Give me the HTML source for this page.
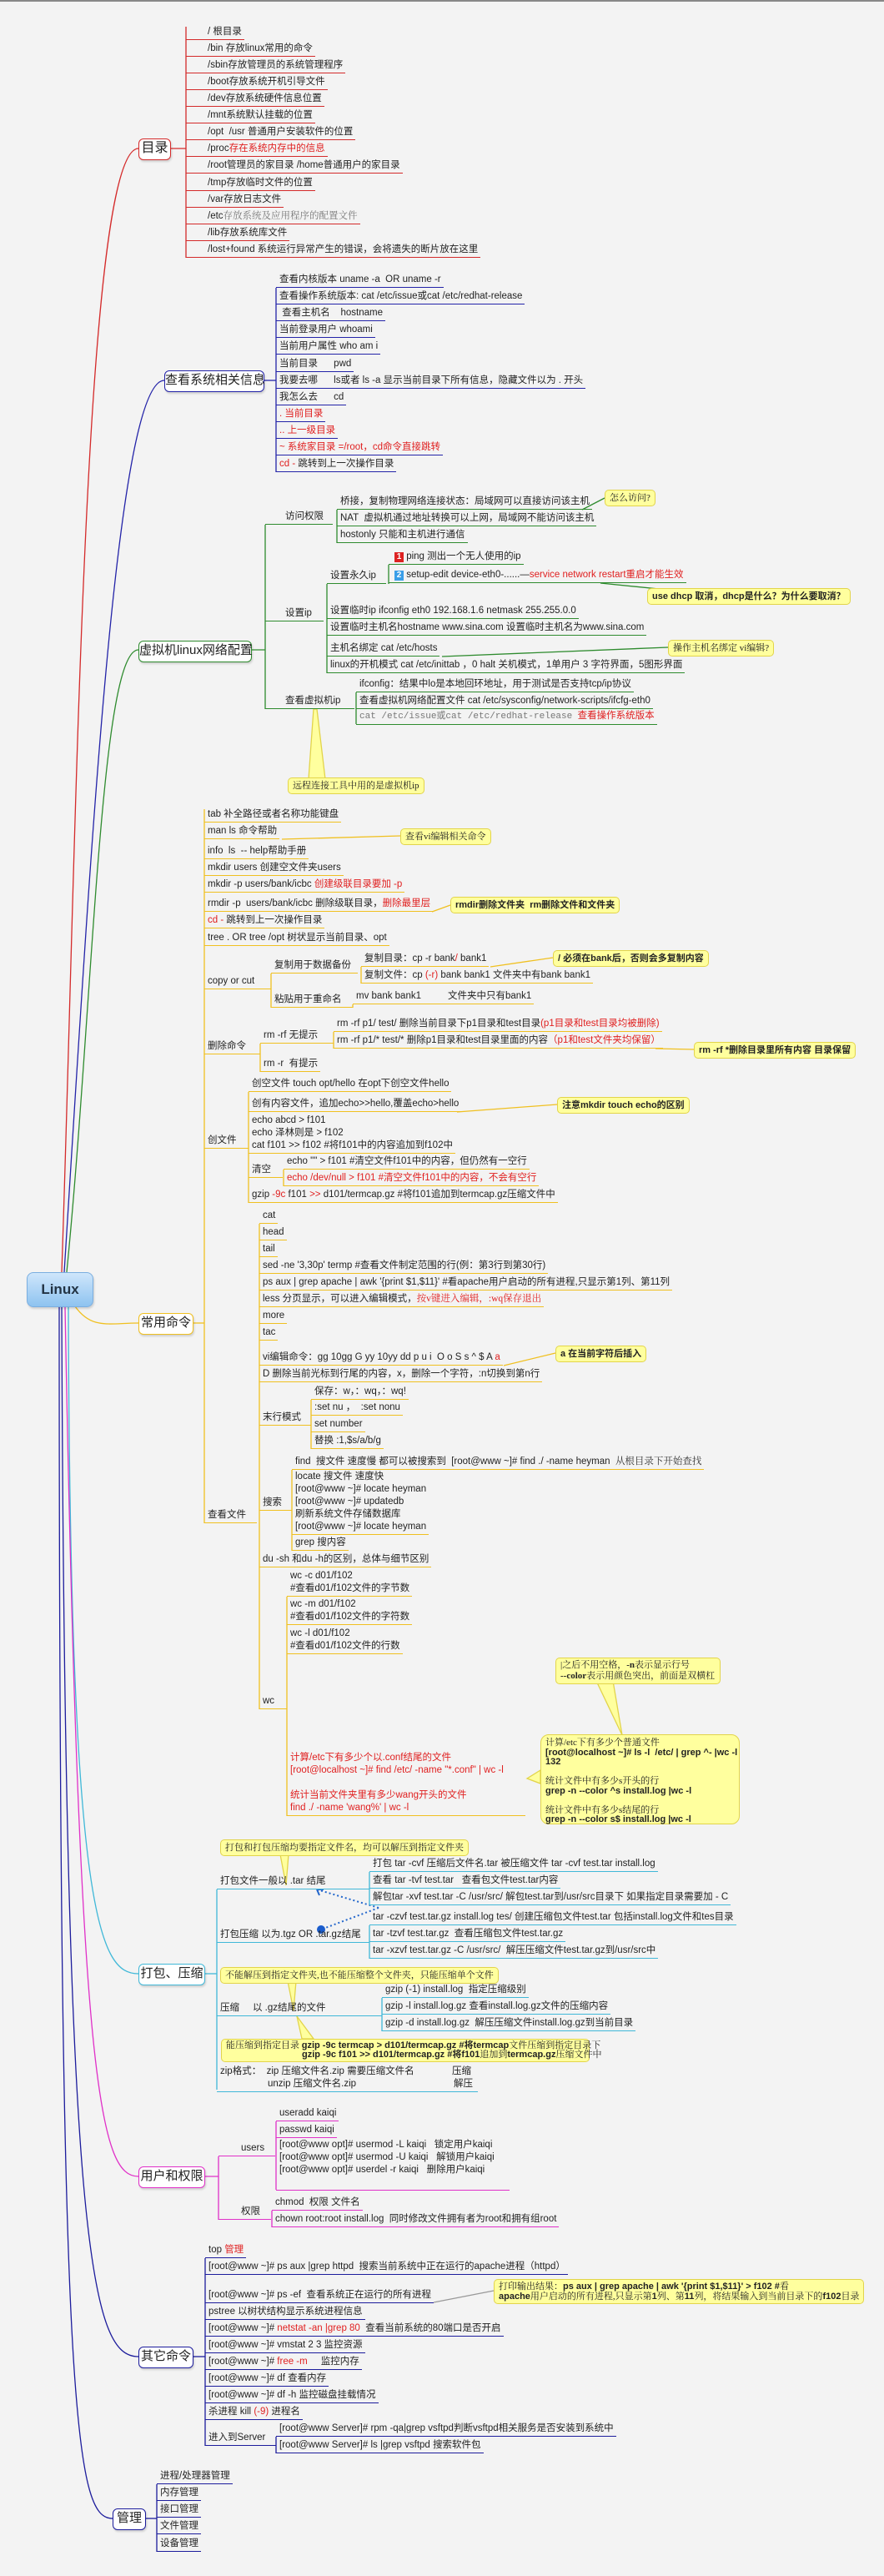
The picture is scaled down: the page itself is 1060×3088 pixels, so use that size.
<!DOCTYPE html>
<html><head><meta charset="utf-8"><style>
body{margin:0;background:#f3f3f3;}
#pg{position:relative;width:1060px;height:3088px;overflow:hidden;background:#f3f3f3;border-top:2px solid #888;box-sizing:border-box;font-family:"Liberation Sans","Noto Sans CJK SC",sans-serif;}
.t{position:absolute;white-space:nowrap;font-size:11.5px;line-height:15px;color:#222;padding:0 3px 1px 4px;border-bottom:1.5px solid #000;}
.r{border-color:#d42a2a}.b{border-color:#2323a8}.g{border-color:#2e8b2e}.y{border-color:#f0c020}.c{border-color:#40b8d8}.m{border-color:#e030c8}.n{border-color:#1c1c9c}
.red{color:#e02020}.gr{color:#777;font-family:"Liberation Serif","Noto Serif CJK SC",serif}
.node{position:absolute;background:#fff;border:1.5px solid;border-radius:6px;font-size:15px;line-height:22px;text-align:center;box-shadow:1px 2px 2px rgba(0,0,0,.15);color:#222;white-space:nowrap;}
.co{position:absolute;background:#ffff9e;border:1.5px solid #e2d44a;border-radius:5px;font-size:11px;line-height:14px;padding:2px 5px;white-space:nowrap;color:#222;font-family:"Liberation Serif","Noto Serif CJK SC",serif;}
.bo{font-weight:bold;font-family:"Liberation Sans","Noto Sans CJK SC",sans-serif}
svg{position:absolute;left:0;top:0}
</style></head><body><div id="pg">
<svg width="1060" height="3088" fill="none" stroke-width="1.3">
<path d="M74 1523 C 92 1000, 100 176, 166 176" stroke="#d42a2a"/>
<path d="M77 1523 C 110 1000, 140 454, 197 454" stroke="#2323a8"/>
<path d="M80 1523 C 112 1200, 120 777, 166 777" stroke="#2e8b2e"/>
<path d="M90 1564 C 110 1592, 130 1584, 166 1584" stroke="#f0c020"/>
<path d="M82 1564 C 84 2300, 120 2364, 166 2364" stroke="#40b8d8"/>
<path d="M78 1564 C 95 2500, 120 2607, 166 2607" stroke="#e030c8"/>
<path d="M74 1564 C 78 2700, 110 2823, 166 2823" stroke="#1c1c9c"/>
<path d="M71 1564 C 71 2900, 90 3017, 135 3017" stroke="#1c1c9c"/>
<g stroke="#d42a2a"><line x1="205" y1="176" x2="223" y2="176"/><line x1="223" y1="30" x2="223" y2="307"/></g>
<g stroke="#2323a8"><line x1="316" y1="454" x2="331" y2="454"/><line x1="331" y1="343" x2="331" y2="564"/></g>
<g stroke="#2e8b2e"><line x1="301" y1="777" x2="318" y2="777"/><line x1="318" y1="627" x2="318" y2="848"/><line x1="404" y1="609" x2="404" y2="649"/><line x1="392" y1="698" x2="392" y2="805"/><line x1="466" y1="675" x2="466" y2="698"/><line x1="427" y1="828" x2="427" y2="866"/>
<line x1="698" y1="609" x2="725" y2="595"/><line x1="720" y1="697" x2="800" y2="705"/><line x1="530" y1="785" x2="801" y2="774"/></g>
<path d="M376 848 L380 848 L390 932 L370 932 Z" fill="#ffff9e" stroke="#e2d44a"/>
<g stroke="#f0c020"><line x1="231" y1="1584" x2="245" y2="1584"/><line x1="245" y1="968" x2="245" y2="1824"/>
<line x1="325" y1="1165" x2="325" y2="1206"/><line x1="433" y1="1157" x2="433" y2="1177"/><line x1="423" y1="1202" x2="423" y2="1206"/>
<line x1="312" y1="1249" x2="312" y2="1283"/><line x1="400" y1="1235" x2="400" y2="1255"/>
<line x1="298" y1="1307" x2="298" y2="1440"/><line x1="340" y1="1400" x2="340" y2="1420"/>
<line x1="311" y1="1465" x2="311" y2="2047"/><line x1="373" y1="1676" x2="373" y2="1735"/><line x1="350" y1="1760" x2="350" y2="1857"/><line x1="344" y1="1912" x2="344" y2="2175"/>
<line x1="338" y1="1004" x2="480" y2="1000"/><line x1="518" y1="1091" x2="540" y2="1083"/><line x1="588" y1="1157" x2="663" y2="1146"/><line x1="786" y1="1255" x2="832" y2="1256"/><line x1="548" y1="1331" x2="668" y2="1322"/><line x1="604" y1="1635" x2="666" y2="1620"/></g>
<path d="M715 2013 L735 2013 L746 2078 Z" fill="#ffff9e" stroke="#e2d44a"/>
<path d="M648 2120 L632 2130 L648 2136 Z" fill="#ffff9e" stroke="#e2d44a"/>
<g stroke="#40b8d8"><line x1="245" y1="2364" x2="260" y2="2364"/><line x1="260" y1="2263" x2="260" y2="2503"/><line x1="443" y1="2242" x2="443" y2="2282"/><line x1="443" y1="2306" x2="443" y2="2346"/><line x1="458" y1="2393" x2="458" y2="2433"/></g>
<path d="M336 2221 L346 2221 L343 2258 Z" fill="#ffff9e" stroke="#e2d44a"/>
<path d="M345 2373 L355 2373 L352 2408 Z" fill="#ffff9e" stroke="#e2d44a"/>
<path d="M356 2415 L362 2442 L376 2442 Z" fill="#ffff9e" stroke="#e2d44a"/>
<path d="M454 2285 L380 2263 M454 2285 L385 2311" stroke="#2266cc" stroke-width="2" stroke-dasharray="2 3"/>
<circle cx="385" cy="2311" r="5" fill="#1a5ccc" stroke="none"/>
<path d="M380 2263 l8 0 M380 2263 l3 7" stroke="#2266cc" stroke-width="2"/>
<g stroke="#e030c8"><line x1="245" y1="2607" x2="262" y2="2607"/><line x1="262" y1="2583" x2="262" y2="2659"/><line x1="331" y1="2541" x2="331" y2="2623"/><line x1="326" y1="2648" x2="326" y2="2668"/></g>
<g stroke="#1c1c9c"><line x1="231" y1="2823" x2="246" y2="2823"/><line x1="246" y1="2705" x2="246" y2="2930"/><line x1="331" y1="2919" x2="331" y2="2939"/>
<line x1="174" y1="3017" x2="188" y2="3017"/><line x1="188" y1="2976" x2="188" y2="3057"/></g>
<line x1="520" y1="2758" x2="592" y2="2744" stroke="#999"/>
</svg>

<div class="node" style="left:32px;top:1523px;width:78px;height:40px;line-height:40px;background:linear-gradient(#cfe6fb,#8ec3f0);border-color:#7aaee0;border-radius:8px;font-size:17px;font-weight:bold;color:#234">Linux</div>

<div class="node" style="left:166px;top:164px;width:37px;height:24px;border-color:#d42a2a;font-size:16px">目录</div>
<div class="t r" style="left:223px;top:29px;padding-left:26px">/ 根目录</div>
<div class="t r" style="left:223px;top:49px;padding-left:26px">/bin 存放linux常用的命令</div>
<div class="t r" style="left:223px;top:69px;padding-left:26px">/sbin存放管理员的系统管理程序</div>
<div class="t r" style="left:223px;top:89px;padding-left:26px">/boot存放系统开机引导文件</div>
<div class="t r" style="left:223px;top:109px;padding-left:26px">/dev存放系统硬件信息位置</div>
<div class="t r" style="left:223px;top:129px;padding-left:26px">/mnt系统默认挂载的位置</div>
<div class="t r" style="left:223px;top:149px;padding-left:26px">/opt &nbsp;/usr 普通用户安装软件的位置</div>
<div class="t r" style="left:223px;top:169px;padding-left:26px">/proc<span class="red">存在系统内存中的信息</span></div>
<div class="t r" style="left:223px;top:189px;padding-left:26px">/root管理员的家目录 /home普通用户的家目录</div>
<div class="t r" style="left:223px;top:210px;padding-left:26px">/tmp存放临时文件的位置</div>
<div class="t r" style="left:223px;top:230px;padding-left:26px">/var存放日志文件</div>
<div class="t r" style="left:223px;top:250px;padding-left:26px">/etc<span class="gr">存放系统及应用程序的配置文件</span></div>
<div class="t r" style="left:223px;top:270px;padding-left:26px">/lib存放系统库文件</div>
<div class="t r" style="left:223px;top:290px;padding-left:26px">/lost+found 系统运行异常产生的错误，会将遗失的断片放在这里</div>

<div class="node" style="left:197px;top:442px;width:118px;height:24px;border-color:#2323a8">查看系统相关信息</div>
<div class="t b" style="left:331px;top:326px">查看内核版本 uname -a &nbsp;OR uname -r</div>
<div class="t b" style="left:331px;top:346px">查看操作系统版本: cat /etc/issue或cat /etc/redhat-release</div>
<div class="t b" style="left:331px;top:366px">&nbsp;查看主机名 &nbsp;&nbsp;&nbsp;hostname</div>
<div class="t b" style="left:331px;top:386px">当前登录用户 whoami</div>
<div class="t b" style="left:331px;top:406px">当前用户属性 who am i</div>
<div class="t b" style="left:331px;top:427px">当前目录 &nbsp;&nbsp;&nbsp;&nbsp;&nbsp;pwd</div>
<div class="t b" style="left:331px;top:447px">我要去哪 &nbsp;&nbsp;&nbsp;&nbsp;&nbsp;ls或者 ls -a 显示当前目录下所有信息，隐藏文件以为 . 开头</div>
<div class="t b" style="left:331px;top:467px">我怎么去 &nbsp;&nbsp;&nbsp;&nbsp;&nbsp;cd</div>
<div class="t b red" style="left:331px;top:487px">. 当前目录</div>
<div class="t b red" style="left:331px;top:507px">.. 上一级目录</div>
<div class="t b red" style="left:331px;top:527px">~ 系统家目录 =/root，cd命令直接跳转</div>
<div class="t b" style="left:331px;top:547px"><span class="red">cd -</span> 跳转到上一次操作目录</div>

<div class="node" style="left:166px;top:766px;width:134px;height:24px;border-color:#2e8b2e">虚拟机linux网络配置</div>
<div class="t g" style="left:318px;top:610px;padding-left:24px;width:54px">访问权限</div>
<div class="t g" style="left:404px;top:592px">桥接，复制物理网络连接状态：局域网可以直接访问该主机</div>
<div class="t g" style="left:404px;top:612px">NAT &nbsp;虚拟机通过地址转换可以上网，局域网不能访问该主机</div>
<div class="t g" style="left:404px;top:632px">hostonly 只能和主机进行通信</div>
<div class="co" style="left:725px;top:585px">怎么访问?</div>
<div class="t g" style="left:318px;top:726px;padding-left:24px;width:43px">设置ip</div>
<div class="t g" style="left:392px;top:681px;width:64px">设置永久ip</div>
<div class="t g" style="left:466px;top:658px;padding-left:7px"><span style="display:inline-block;width:11px;height:12px;background:#d22;color:#fff;font-size:10px;line-height:12px;text-align:center;font-weight:bold">1</span> ping 测出一个无人使用的ip</div>
<div class="t g" style="left:466px;top:680px;padding-left:7px"><span style="display:inline-block;width:11px;height:12px;background:#3a9ee8;color:#fff;font-size:10px;line-height:12px;text-align:center;font-weight:bold">2</span> setup-edit device-eth0-......—<span class="red">service network restart重启才能生效</span></div>
<div class="co bo" style="left:776px;top:703px">use dhcp 取消，dhcp是什么？为什么要取消？</div>
<div class="t g" style="left:392px;top:723px">设置临时ip ifconfig eth0 192.168.1.6 netmask 255.255.0.0</div>
<div class="t g" style="left:392px;top:743px">设置临时主机名hostname www.sina.com 设置临时主机名为www.sina.com</div>
<div class="t g" style="left:392px;top:768px">主机名绑定 cat /etc/hosts</div>
<div class="co" style="left:801px;top:765px">操作主机名绑定 vi编辑?</div>
<div class="t g" style="left:392px;top:788px">linux的开机模式 cat /etc/inittab ，0 halt 关机模式，1单用户 3 字符界面，5图形界面</div>
<div class="t g" style="left:318px;top:831px;padding-left:24px;width:80px">查看虚拟机ip</div>
<div class="t g" style="left:427px;top:811px">ifconfig：结果中lo是本地回环地址，用于测试是否支持tcp/ip协议</div>
<div class="t g" style="left:427px;top:831px">查看虚拟机网络配置文件 cat /etc/sysconfig/network-scripts/ifcfg-eth0</div>
<div class="t g" style="left:427px;top:849px"><span class="gr" style="font-family:'Liberation Mono',monospace;font-size:11px">cat /etc/issue或cat /etc/redhat-release</span> &nbsp;<span class="red">查看操作系统版本</span></div>
<div class="co" style="left:345px;top:930px">远程连接工具中用的是虚拟机ip</div>

<div class="node" style="left:166px;top:1572px;width:64px;height:24px;border-color:#f0c020">常用命令</div>
<div class="t y" style="left:245px;top:967px">tab 补全路径或者名称功能键盘</div>
<div class="t y" style="left:245px;top:987px">man ls 命令帮助</div>
<div class="co" style="left:480px;top:991px">查看vi编辑相关命令</div>
<div class="t y" style="left:245px;top:1011px">info &nbsp;ls &nbsp;-- help帮助手册</div>
<div class="t y" style="left:245px;top:1031px">mkdir users 创建空文件夹users</div>
<div class="t y" style="left:245px;top:1051px">mkdir -p users/bank/icbc <span class="red">创建级联目录要加 -p</span></div>
<div class="t y" style="left:245px;top:1074px">rmdir -p &nbsp;users/bank/icbc 删除级联目录，<span class="red">删除最里层</span></div>
<div class="co bo" style="left:540px;top:1073px">rmdir删除文件夹 &nbsp;rm删除文件和文件夹</div>
<div class="t y" style="left:245px;top:1094px"><span class="red">cd -</span> 跳转到上一次操作目录</div>
<div class="t y" style="left:245px;top:1115px">tree . OR tree /opt 树状显示当前目录、opt</div>
<div class="t y" style="left:245px;top:1167px;width:73px">copy or cut</div>
<div class="t y" style="left:325px;top:1148px;width:97px">复制用于数据备份</div>
<div class="t y" style="left:433px;top:1140px">复制目录：cp -r bank<span class="red">/</span> bank1</div>
<div class="co bo" style="left:663px;top:1137px">/ 必须在bank后，否则会多复制内容</div>
<div class="t y" style="left:433px;top:1160px">复制文件：cp <span class="red">(-r)</span> bank bank1 文件夹中有bank bank1</div>
<div class="t y" style="left:325px;top:1189px;width:91px">粘贴用于重命名</div>
<div class="t y" style="left:423px;top:1185px">mv bank bank1 &nbsp;&nbsp;&nbsp;&nbsp;&nbsp;&nbsp;&nbsp;&nbsp;&nbsp;文件夹中只有bank1</div>
<div class="t y" style="left:245px;top:1245px;width:60px">删除命令</div>
<div class="t y" style="left:312px;top:1232px;width:81px">rm -rf 无提示</div>
<div class="t y" style="left:400px;top:1218px">rm -rf p1/ test/ 删除当前目录下p1目录和test目录<span class="red">(p1目录和test目录均被删除)</span></div>
<div class="t y" style="left:400px;top:1238px">rm -rf p1/* test/* 删除p1目录和test目录里面的内容<span class="red">（p1和test文件夹均保留）</span></div>
<div class="co bo" style="left:832px;top:1247px">rm -rf *删除目录里所有内容 目录保留</div>
<div class="t y" style="left:312px;top:1266px">rm -r &nbsp;有提示</div>
<div class="t y" style="left:245px;top:1358px;width:46px">创文件</div>
<div class="t y" style="left:298px;top:1290px">创空文件 touch opt/hello 在opt下创空文件hello</div>
<div class="t y" style="left:298px;top:1314px">创有内容文件，追加echo&gt;&gt;hello,覆盖echo&gt;hello</div>
<div class="co bo" style="left:668px;top:1313px">注意mkdir touch echo的区别</div>
<div class="t y" style="left:298px;top:1334px">echo abcd &gt; f101<br>echo 泽林则是 &gt; f102<br>cat f101 &gt;&gt; f102 #将f101中的内容追加到f102中</div>
<div class="t y" style="left:298px;top:1393px;width:34px">清空</div>
<div class="t y" style="left:340px;top:1383px">echo "" &gt; f101 #清空文件f101中的内容，但仍然有一空行</div>
<div class="t y red" style="left:340px;top:1403px">echo /dev/null &gt; f101 #清空文件f101中的内容，不会有空行</div>
<div class="t y" style="left:298px;top:1423px">gzip <span class="red">-9c</span> f101 <span class="red">&gt;&gt;</span> d101/termcap.gz #将f101追加到termcap.gz压缩文件中</div>
<div class="t y" style="left:245px;top:1807px;width:56px">查看文件</div>
<div class="t y" style="left:311px;top:1448px">cat</div>
<div class="t y" style="left:311px;top:1468px">head</div>
<div class="t y" style="left:311px;top:1488px">tail</div>
<div class="t y" style="left:311px;top:1508px">sed -ne '3,30p' termp #查看文件制定范围的行(例：第3行到第30行)</div>
<div class="t y" style="left:311px;top:1528px">ps aux | grep apache | awk '{print $1,$11}' #看apache用户启动的所有进程,只显示第1列、第11列</div>
<div class="t y" style="left:311px;top:1548px">less 分页显示，可以进入编辑模式，<span class="red gr" style="color:#e02020">按v键进入编辑，:wq保存退出</span></div>
<div class="t y" style="left:311px;top:1568px">more</div>
<div class="t y" style="left:311px;top:1588px">tac</div>
<div class="t y" style="left:311px;top:1618px">vi编辑命令：gg 10gg G yy 10yy dd p u i &nbsp;O o S s ^ $ A <span class="red">a</span></div>
<div class="co bo" style="left:666px;top:1611px">a 在当前字符后插入</div>
<div class="t y" style="left:311px;top:1638px">D 删除当前光标到行尾的内容，x，删除一个字符，:n切换到第n行</div>
<div class="t y" style="left:311px;top:1690px;width:55px">末行模式</div>
<div class="t y" style="left:373px;top:1659px">保存：w，：wq，：wq!</div>
<div class="t y" style="left:373px;top:1678px">:set nu ， &nbsp;:set nonu</div>
<div class="t y" style="left:373px;top:1698px">set number</div>
<div class="t y" style="left:373px;top:1718px">替换 :1,$s/a/b/g</div>
<div class="t y" style="left:311px;top:1792px;width:32px">搜索</div>
<div class="t y" style="left:350px;top:1743px">find &nbsp;搜文件 速度慢 都可以被搜索到 &nbsp;[root@www ~]# find ./ -name heyman &nbsp;<span class="gr" style="color:#333">从根目录下开始查找</span></div>
<div class="t y" style="left:350px;top:1761px">locate 搜文件 速度快<br>[root@www ~]# locate heyman<br>[root@www ~]# updatedb<br>刷新系统文件存储数据库<br>[root@www ~]# locate heyman</div>
<div class="t y" style="left:350px;top:1840px">grep 搜内容</div>
<div class="t y" style="left:311px;top:1860px">du -sh 和du -h的区别，总体与细节区别</div>
<div class="t y" style="left:311px;top:2030px;width:26px">wc</div>
<div class="t y" style="left:344px;top:1880px">wc -c d01/f102<br>#查看d01/f102文件的字节数</div>
<div class="t y" style="left:344px;top:1914px">wc -m d01/f102<br>#查看d01/f102文件的字符数</div>
<div class="t y" style="left:344px;top:1949px">wc -l d01/f102<br>#查看d01/f102文件的行数</div>
<div class="t y red" style="left:344px;top:2098px;width:279px">计算/etc下有多少个以.conf结尾的文件<br>[root@localhost ~]# find /etc/ -name "*.conf" | wc -l<br>&nbsp;<br>统计当前文件夹里有多少wang开头的文件<br>find ./ -name 'wang%' | wc -l</div>
<div class="co" style="left:666px;top:1985px;line-height:13px;width:186px">|之后不用空格，<b>-n</b>表示显示行号<br><b>--color</b>表示用颜色突出，前面是双横杠</div>
<div class="co" style="left:648px;top:2077px;width:227px;height:100px;border-radius:10px;line-height:11.5px;padding-top:4px">计算/etc下有多少个普通文件<br><b class="bo">[root@localhost ~]# ls -l &nbsp;/etc/ | grep ^- |wc -l<br>132</b><br>&nbsp;<br>统计文件中有多少s开头的行<br><b class="bo">grep -n --color ^s install.log |wc -l</b><br>&nbsp;<br>统计文件中有多少s结尾的行<br><b class="bo">grep -n --color s$ install.log |wc -l</b></div>

<div class="node" style="left:166px;top:2352px;width:78px;height:24px;border-color:#40b8d8">打包、压缩</div>
<div class="co" style="left:264px;top:2203px">打包和打包压缩均要指定文件名，均可以解压到指定文件夹</div>
<div class="t c" style="left:260px;top:2246px;width:176px">打包文件一般以 .tar 结尾</div>
<div class="t c" style="left:443px;top:2225px">打包 tar -cvf 压缩后文件名.tar 被压缩文件 tar -cvf test.tar install.log</div>
<div class="t c" style="left:443px;top:2245px">查看 tar -tvf test.tar &nbsp;&nbsp;查看包文件test.tar内容</div>
<div class="t c" style="left:443px;top:2265px">解包tar -xvf test.tar -C /usr/src/ 解包test.tar到/usr/src目录下 如果指定目录需要加 - C</div>
<div class="t c" style="left:260px;top:2310px;width:176px">打包压缩 以为.tgz OR .tar.gz结尾</div>
<div class="t c" style="left:443px;top:2289px">tar -czvf test.tar.gz install.log tes/ 创建压缩包文件test.tar 包括install.log文件和tes目录</div>
<div class="t c" style="left:443px;top:2309px">tar -tzvf test.tar.gz &nbsp;查看压缩包文件test.tar.gz</div>
<div class="t c" style="left:443px;top:2329px">tar -xzvf test.tar.gz -C /usr/src/ &nbsp;解压压缩文件test.tar.gz到/usr/src中</div>
<div class="co" style="left:264px;top:2356px">不能解压到指定文件夹,也不能压缩整个文件夹，只能压缩单个文件</div>
<div class="t c" style="left:260px;top:2398px;width:191px">压缩 &nbsp;&nbsp;&nbsp;&nbsp;以 .gz结尾的文件</div>
<div class="t c" style="left:458px;top:2376px">gzip (-1) install.log &nbsp;指定压缩级别</div>
<div class="t c" style="left:458px;top:2396px">gzip -l install.log.gz 查看install.log.gz文件的压缩内容</div>
<div class="t c" style="left:458px;top:2416px">gzip -d install.log.gz &nbsp;解压压缩文件install.log.gz到当前目录</div>
<div class="co" style="left:265px;top:2442px;width:430px;line-height:11px">能压缩到指定目录 <b class="bo">gzip -9c termcap &gt; d101/termcap.gz #将termcap</b>文件压缩到指定目录下<br><span style="padding-left:91px"><b class="bo">gzip -9c f101 &gt;&gt; d101/termcap.gz #将f101</b>追加到<b class="bo">termcap.gz</b>压缩文件中</span></div>
<div class="t c" style="left:260px;top:2474px;width:306px">zip格式： &nbsp;zip 压缩文件名.zip 需要压缩文件名<span style="position:absolute;left:282px">压缩</span><br><span style="padding-left:57px">unzip 压缩文件名.zip</span><span style="position:absolute;left:284px;top:15px">解压</span></div>

<div class="node" style="left:166px;top:2595px;width:78px;height:24px;border-color:#e030c8">用户和权限</div>
<div class="t m" style="left:262px;top:2566px;padding-left:27px;width:38px">users</div>
<div class="t m" style="left:331px;top:2524px">useradd kaiqi</div>
<div class="t m" style="left:331px;top:2544px">passwd kaiqi</div>
<div class="t m" style="left:331px;top:2562px;width:273px">[root@www opt]# usermod -L kaiqi &nbsp;&nbsp;锁定用户kaiqi<br>[root@www opt]# usermod -U kaiqi &nbsp;&nbsp;解锁用户kaiqi<br>[root@www opt]# userdel -r kaiqi &nbsp;&nbsp;删除用户kaiqi<br>&nbsp;</div>
<div class="t m" style="left:262px;top:2642px;padding-left:27px;width:33px">权限</div>
<div class="t m" style="left:326px;top:2631px">chmod &nbsp;权限 文件名</div>
<div class="t m" style="left:326px;top:2651px">chown root:root install.log &nbsp;同时修改文件拥有者为root和拥有组root</div>

<div class="node" style="left:166px;top:2811px;width:64px;height:24px;border-color:#1c1c9c">其它命令</div>
<div class="t n" style="left:246px;top:2688px">top <span class="red">管理</span></div>
<div class="t n" style="left:246px;top:2708px">[root@www ~]# ps aux |grep httpd &nbsp;搜索当前系统中正在运行的apache进程（httpd）</div>
<div class="t n" style="left:246px;top:2742px">[root@www ~]# ps -ef &nbsp;查看系统正在运行的所有进程</div>
<div class="co" style="left:592px;top:2730px;line-height:12px">打印输出结果：<b class="bo">ps aux | grep apache | awk '{print $1,$11}' &gt; f102 #</b>看<br><b class="bo">apache</b>用户启动的所有进程,只显示第<b class="bo">1</b>列、第<b class="bo">11</b>列，将结果输入到当前目录下的<b class="bo">f102</b>目录</div>
<div class="t n" style="left:246px;top:2762px">pstree 以树状结构显示系统进程信息</div>
<div class="t n" style="left:246px;top:2782px">[root@www ~]# <span class="red">netstat -an |grep 80</span> &nbsp;查看当前系统的80端口是否开启</div>
<div class="t n" style="left:246px;top:2802px">[root@www ~]# vmstat 2 3 监控资源</div>
<div class="t n" style="left:246px;top:2822px">[root@www ~]# <span class="red">free -m</span> &nbsp;&nbsp;&nbsp;&nbsp;监控内存</div>
<div class="t n" style="left:246px;top:2842px">[root@www ~]# df 查看内存</div>
<div class="t n" style="left:246px;top:2862px">[root@www ~]# df -h 监控磁盘挂载情况</div>
<div class="t n" style="left:246px;top:2882px">杀进程 kill <span class="red">(-9)</span> 进程名</div>
<div class="t n" style="left:246px;top:2913px;width:78px">进入到Server</div>
<div class="t n" style="left:331px;top:2902px">[root@www Server]# rpm -qa|grep vsftpd判断vsftpd相关服务是否安装到系统中</div>
<div class="t n" style="left:331px;top:2922px">[root@www Server]# ls |grep vsftpd 搜索软件包</div>

<div class="node" style="left:135px;top:3005px;width:38px;height:24px;border-color:#1c1c9c">管理</div>
<div class="t n" style="left:188px;top:2959px">进程/处理器管理</div>
<div class="t n" style="left:188px;top:2979px">内存管理</div>
<div class="t n" style="left:188px;top:2999px">接口管理</div>
<div class="t n" style="left:188px;top:3019px">文件管理</div>
<div class="t n" style="left:188px;top:3040px">设备管理</div>
</div></body></html>
